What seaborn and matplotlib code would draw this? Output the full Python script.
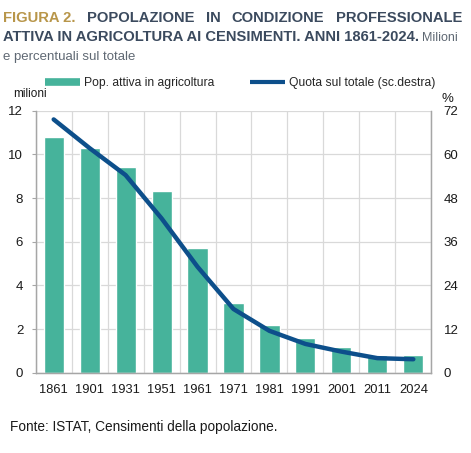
import numpy as np
import pandas as pd
import matplotlib
matplotlib.use('Agg')
import matplotlib.pyplot as plt
import seaborn as sns
from matplotlib.lines import Line2D

# ---- data ----
years = ['1861', '1901', '1931', '1951', '1961', '1971',
         '1981', '1991', '2001', '2011', '2024']
pop_milioni = [10.8, 10.3, 9.4, 8.3, 5.7, 3.2, 2.2, 1.6, 1.2, 0.8, 0.8]
quota_pct = [69.6, 61.7, 54.3, 42.4, 29.1, 17.5, 11.5, 7.9, 5.8, 4.0, 3.7]
left_ticks = [0, 2, 4, 6, 8, 10, 12]
right_ticks = [0, 12, 24, 36, 48, 60, 72]

BAR = '#46b39b'
LINE = '#0d4f8b'
GOLD = '#b8964a'
DARK = '#3b4a5e'
GREY = '#5f6873'
GRID = '#d9d9d9'
SPINE = '#a6a6a6'
INK = '#1a1a1a'

W, H = 471, 453

sns.set_style('white')
plt.rcParams['font.family'] = ['Liberation Sans', 'DejaVu Sans']

fig = plt.figure(figsize=(W / 100, H / 100), dpi=100)
ax = fig.add_axes([35.7 / W, 1 - 372.7 / H, (431.3 - 35.7) / W, (372.7 - 110.7) / H])

df = pd.DataFrame({'anno': years, 'pop': pop_milioni})
sns.barplot(data=df, x='anno', y='pop', color=BAR, saturation=1,
            width=0.56, ax=ax, zorder=2)

ax2 = ax.twinx()
sns.lineplot(x=np.arange(len(years)), y=quota_pct, ax=ax2, color=LINE,
             lw=3.2, sort=False, solid_capstyle='round')

for a in (ax, ax2):
    a.set_xlim(-0.5, len(years) - 0.5)
    a.set_xlabel('')
    a.set_ylabel('')

ax.set_ylim(0, 12)
ax.set_yticks(left_ticks)
ax2.set_ylim(0, 72)
ax2.set_yticks(right_ticks)

# grid: horizontal at y ticks, vertical between categories
ax.set_xticks(np.arange(len(years)))
ax.set_xticklabels(years)
ax.set_xticks(np.arange(-0.5, len(years), 1), minor=True)
ax.grid(axis='y', which='major', color=GRID, lw=0.9, zorder=0)
ax.grid(axis='x', which='minor', color=GRID, lw=0.9, zorder=0)
ax.grid(axis='x', which='major', visible=False)
ax.set_axisbelow(True)
ax2.grid(False)

ax.tick_params(axis='x', which='major', length=0, pad=8, labelsize=9.3, labelcolor=INK)
ax.tick_params(axis='x', which='minor', length=3, width=0.8, color=SPINE, direction='out')
ax.tick_params(axis='y', length=3, width=0.8, color=SPINE, pad=6, labelsize=9.5, labelcolor=INK)
ax2.tick_params(axis='y', length=0, pad=9, labelsize=9.5, labelcolor=INK)

for a in (ax, ax2):
    a.spines['top'].set_visible(False)
    for s in ('left', 'bottom', 'right'):
        a.spines[s].set_color(SPINE)
        a.spines[s].set_linewidth(0.9)

# ---- legend ----
handles = [Line2D([], [], color=BAR, lw=5.5, solid_capstyle='butt'),
           Line2D([], [], color=LINE, lw=3, solid_capstyle='butt')]
labels = ['Pop. attiva in agricoltura', 'Quota sul totale (sc.destra)']
fig.legend(handles, labels, ncol=2, frameon=False, fontsize=8.7,
           loc='center left', bbox_to_anchor=(45 / W, 1 - 83 / H),
           borderpad=0, borderaxespad=0, handlelength=2.9,
           handletextpad=0.3, columnspacing=3.0)

fig.text(13 / W, 1 - 97 / H, 'milioni', fontsize=8.5, color=INK, va='baseline')
fig.text(447 / W, 1 - 102 / H, '%', fontsize=9.5, color=INK, va='baseline', ha='center')

# ---- title (justified first line) ----
fig.canvas.draw()
rend = fig.canvas.get_renderer()


def justify(words, colors, ybase, x0, x1, **kw):
    texts = [fig.text(0, 1 - ybase / H, w, color=c, va='baseline', **kw)
             for w, c in zip(words, colors)]
    widths = [t.get_window_extent(rend).width for t in texts]
    gap = (x1 - x0 - sum(widths)) / (len(words) - 1)
    x = x0
    for t, w in zip(texts, widths):
        t.set_x(x / W)
        x += w + gap


title_kw = dict(fontsize=10.6, fontweight='bold')
justify(['FIGURA 2.', 'POPOLAZIONE', 'IN', 'CONDIZIONE', 'PROFESSIONALE'],
        [GOLD, DARK, DARK, DARK, DARK], 22, 3, 462, **title_kw)

t2 = fig.text(3 / W, 1 - 41 / H, 'ATTIVA IN AGRICOLTURA AI CENSIMENTI. ANNI 1861-2024.',
              color=DARK, va='baseline', **title_kw)
w2 = t2.get_window_extent(rend).width
fig.text((3 + w2 + 3) / W, 1 - 41 / H, 'Milioni', color=GREY, fontsize=9, va='baseline')
fig.text(3 / W, 1 - 60 / H, 'e percentuali sul totale', color=GREY, fontsize=9.5, va='baseline')

fig.text(10 / W, 1 - 431 / H, 'Fonte: ISTAT, Censimenti della popolazione.',
         fontsize=9.8, color=INK, va='baseline')

fig.savefig('out.png', dpi=100)
